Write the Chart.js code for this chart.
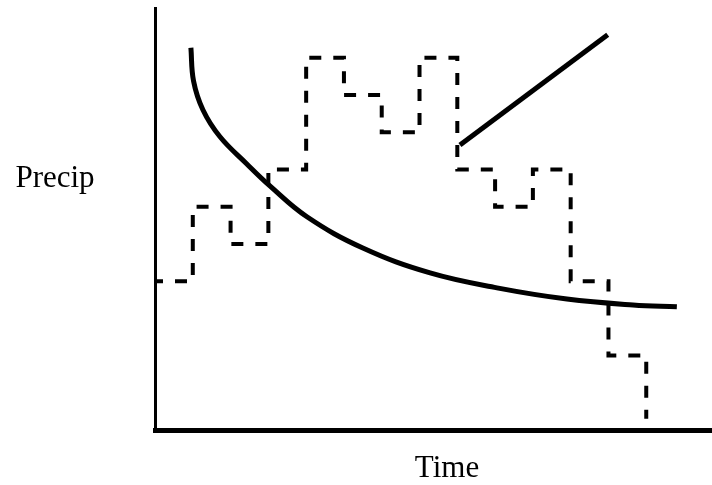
<!DOCTYPE html>
<html>
<head>
<meta charset="utf-8">
<script src="https://cdn.jsdelivr.net/npm/chart.js@4.4.1/dist/chart.umd.min.js"></script>
<style>
  html, body { margin: 0; padding: 0; background: #fff; }
  #wrap { width: 712px; height: 485px; }
</style>
</head>
<body>
<div id="wrap"><canvas id="chart" width="712" height="485"></canvas></div>
<script>
// Axis labels
const xLabel = 'Time';
const yLabel = 'Precip';

// Dashed step series (precip per time step)
const stepTimes = [0, 1, 2, 3, 4, 5, 6, 7, 8, 9, 10, 11, 12, 13];
const stepValues = [4, 6, 5, 7, 10, 9, 8, 10, 7, 6, 7, 4, 2, 0.3];

// Solid decaying curve
const curveTimes = [0.95, 1.02, 1.27, 1.72, 2.43, 3.04, 4.02, 5.50, 7.28, 9.05, 10.90, 12.65, 13.81];
const curveValues = [10.27, 9.38, 8.60, 7.88, 7.15, 6.56, 5.73, 4.89, 4.22, 3.82, 3.52, 3.36, 3.31];

// Straight rising segment
const lineTimes = [8.07, 11.98];
const lineValues = [7.66, 10.62];

const toPoints = (xs, ys) => xs.map((x, i) => ({ x: x, y: ys[i] }));

// Draw unrotated axis labels as text
const labelPlugin = {
    id: 'labels',
    afterDraw(chart) {
        const ctx = chart.ctx;
        const area = chart.chartArea;
        ctx.save();
        ctx.fillStyle = '#000';
        ctx.font = '31px "Liberation Serif", "Times New Roman", serif';
        ctx.textAlign = 'center';
        ctx.textBaseline = 'alphabetic';
        ctx.fillText(yLabel, 55, 187);
        ctx.fillText(xLabel, 447, area.bottom + 47);
        ctx.restore();
    }
};

new Chart(document.getElementById('chart'), {
    type: 'line',
    data: {
        datasets: [
            {
                data: toPoints(stepTimes, stepValues),
                stepped: true,
                borderColor: '#000',
                borderWidth: 4,
                borderDash: [12, 12],
                borderDashOffset: 4,
                pointRadius: 0,
                fill: false
            },
            {
                data: toPoints(curveTimes, curveValues),
                tension: 0.4,
                borderColor: '#000',
                borderWidth: 5,
                pointRadius: 0,
                fill: false
            },
            {
                data: toPoints(lineTimes, lineValues),
                borderColor: '#000',
                borderWidth: 5,
                pointRadius: 0,
                fill: false
            }
        ]
    },
    options: {
        responsive: false,
        animation: false,
        layout: { padding: { left: 155, top: 8, right: 0, bottom: 55 } },
        plugins: { legend: { display: false }, tooltip: { enabled: false } },
        scales: {
            x: {
                type: 'linear',
                min: 0,
                max: 14.74,
                ticks: { display: false },
                grid: { display: false, drawTicks: false },
                border: { display: true, color: '#000', width: 5 }
            },
            y: {
                type: 'linear',
                min: 0,
                max: 11.34,
                ticks: { display: false },
                grid: { display: false, drawTicks: false },
                border: { display: true, color: '#000', width: 3 }
            }
        }
    },
    plugins: [labelPlugin]
});
</script>
</body>
</html>
